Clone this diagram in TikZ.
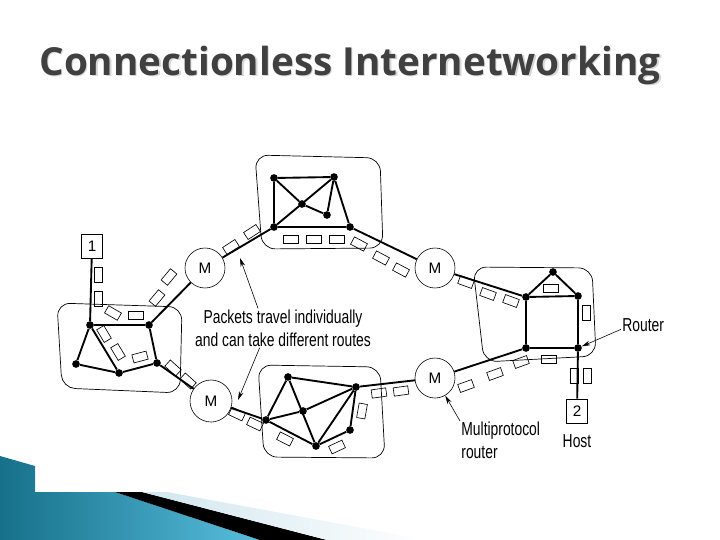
\documentclass[tikz,border=0pt]{standalone}
\usepackage{fontspec}
\setmainfont{Liberation Sans}
\newfontfamily\titlefont{Open Sans}
\newfontfamily\narrowfont{Liberation Sans}[FakeStretch=0.74]
\usetikzlibrary{arrows.meta, calc}
\definecolor{titlegrey}{HTML}{404040}
\definecolor{shadowgrey}{HTML}{D6D6D6}
\definecolor{tealdark}{HTML}{16708A}
\definecolor{teallight}{HTML}{58BEDD}
\definecolor{paleblue}{HTML}{D0E6EE}

\begin{document}
\begin{tikzpicture}[x=0.3mm, y=-0.3mm, font=\narrowfont\fontsize{16}{19.5}\selectfont,
    net/.style={line width=1.6pt},
    dot/.style={circle, fill, inner sep=0pt, minimum size=2.3mm},
    mrouter/.style={circle, draw, line width=0.5pt, minimum size=12mm, inner sep=0pt,
      font=\rmfamily\fontsize{13}{15}\selectfont},
    pkt/.style={draw, line width=0.55pt, minimum width=4.4mm, minimum height=2.5mm, inner sep=0pt},
    host/.style={draw, line width=0.5pt, minimum width=6.3mm, minimum height=7.2mm, inner sep=0pt,
      font=\rmfamily\fontsize{13}{15}\selectfont},
    lanbox/.style={draw, line width=0.6pt, rounded corners=4mm},
    pointer/.style={-{Stealth[length=2.6mm, width=1.4mm]}, line width=0.5pt},
    lbl/.style={inner sep=1pt}]
  \useasboundingbox (0,0) rectangle (720,540);

  % slide corner
  \shade[left color=tealdark, right color=teallight]
    (0,456) -- (35,466) -- (35,492) -- (115,492) -- (260,540) -- (0,540) -- cycle;
  \fill[black] (115,492) -- (142,492) -- (327,540) -- (260,540) -- cycle;
  \shade[left color=paleblue, right color=white]
    (142,492) -- (167,492) -- (428,540) -- (327,540) -- cycle;

  % title
  \node[font=\titlefont\bfseries\fontsize{33}{38}\selectfont, text=shadowgrey, anchor=base]
    (titleshadow) at (351.5,76.5) {Connectionless Internetworking};
  \node[font=\titlefont\bfseries\fontsize{33}{38}\selectfont, text=titlegrey, anchor=base]
    (title) at (350,75) {Connectionless Internetworking};

  % networks
  \draw[lanbox] (57,303) -- (182,307) -- (180,393) -- (62,388) -- cycle;
  \draw[lanbox] (255,155) -- (380,158) -- (383,248) -- (262,249) -- cycle;
  \draw[lanbox] (258,365) -- (380,367) -- (385,458) -- (264,457) -- cycle;
  \draw[lanbox] (473,267) -- (592,268) -- (596,356) -- (484,362) -- cycle;

  \foreach \n/\x/\y in {la/90/325, lb/149/325, lc/76/364, ld/119/373, le/157/363,
      ta/274/178, tb/334/177, tc/302/204, td/327/215, te/274/227, tf/350/227,
      ba/288/377, bb/356/387, bc/303/411, bd/266/420, be/350/430, bf/316/446,
      ra/553/272, rb/526/297, rc/578/296, rd/526/348, re/578/348}
    \node[dot] (\n) at (\x,\y) {};

  \node[mrouter] (m1) at (205,268) {M};
  \node[mrouter, minimum size=12.6mm] (m2) at (211,401) {M};
  \node[mrouter] (m3) at (435,268) {M};
  \node[mrouter] (m4) at (435,378) {M};

  \node[host] (h1) at (92,246) {1};
  \node[host] (h2) at (577,411) {2};

  % links
  \draw[net] (h1) -- (la) -- (lb) -- (le) -- (ld) -- (lc) -- (la) -- (ld);
  \draw[net] (lb) -- (m1) (le) -- (m2);
  \draw[net] (ta) -- (tb) -- (tf) -- (te) -- (ta) -- (tc) -- (td) -- (tb) -- (te);
  \draw[net] (te) -- (m1) (tf) -- (m3);
  \draw[net] (ba) -- (bb) -- (be) -- (bf) -- (bd) -- (ba) -- (bf) (bb) -- (bf) (bb) -- (bc) -- (bd);
  \draw[net] (bd) -- (m2) (bb) -- (m4);
  \draw[net] (rb) -- (ra) -- (rc) -- (rb) -- (rd) -- (re) -- (rc) (re) -- (h2);
  \draw[net] (m3) -- (rb) (m4) -- (rd);

  % packets
  \foreach \x/\y/\a [count=\i] in {98/275/90, 98/299/90, 113/313/-30, 136/315/0,
      104/334/-59, 118/352/-59, 140/357/15, 157/298/50, 169/277/50,
      231/247/33, 252/232/33, 173/368/-42, 188/381/-42,
      291/239/0, 314/239/0, 337/239/0, 359/244/-28, 381/258/-28, 401/270/-28,
      466/282/-20, 488/294/-20, 511/301/-20, 551/288/0, 586/313/90, 549/359/0,
      466/386/20, 495/374/20, 521/362/20, 574/376/90, 587/376/90,
      237/414/-25, 255/424/-25, 285/439/-27, 337/447/25, 362/411/80,
      379/393/8, 401/391/8}
    \node[pkt, rotate=\a] (pk\i) at (\x,\y) {};

  % labels
  \node[lbl, align=center] (note) at (283,328) {Packets travel individually\\and can take different routes};
  \coordinate (hitup) at (240,258);
  \coordinate (hitdown) at (238,400);
  \draw[pointer] ([xshift=-7.5mm]note.north) -- (hitup);
  \draw[pointer] ([xshift=-7mm]note.south) -- (hitdown);

  \node[lbl, anchor=west] (routerlbl) at (621,325) {Router};
  \draw[pointer] ([yshift=-1.3mm]routerlbl.west) -- (re);

  \node[lbl, anchor=north west, align=left] (mplbl) at (460,421) {Multiprotocol\\router};
  \draw[pointer] (mplbl.north west) -- (m4);

  \node[lbl] (hostlbl) at (577,441) {Host};
\end{tikzpicture}
\end{document}
